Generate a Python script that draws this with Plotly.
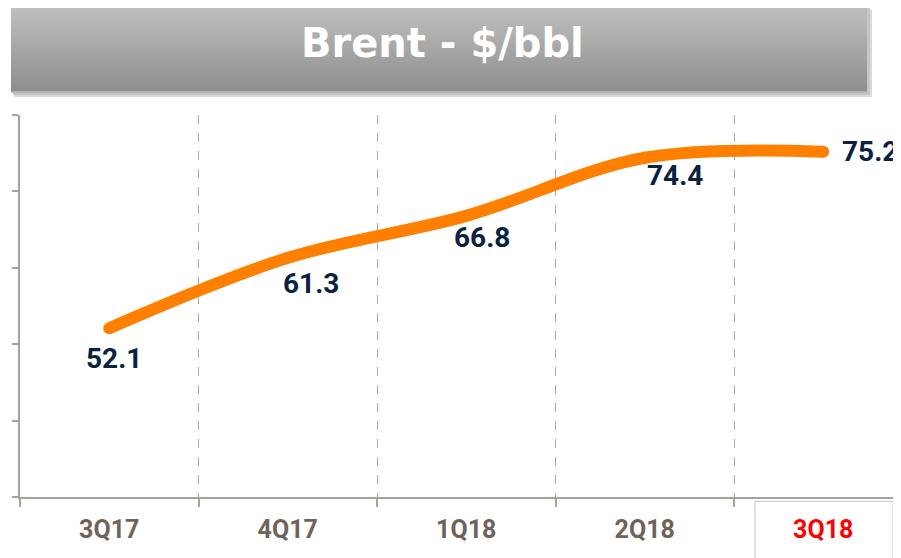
import plotly.graph_objects as go

# ---- data ----
quarters = ["3Q17", "4Q17", "1Q18", "2Q18", "3Q18"]
brent = [52.1, 61.3, 66.8, 74.4, 75.2]
label_text = ["52.1", "61.3", "66.8", "74.4", "75.2"]
title_text = "Brent - $/bbl"

# ---- geometry (pixels, reference frame; page body has an 8px margin) ----
OFF = 8
W, H = 901 - OFF, 558 - OFF
L, T = 20 - OFF, 115 - OFF
plot_bottom = 496.7 - OFF
R = 0
B = H - plot_bottom
pw, ph = W - L - R, plot_bottom - T

def px(x):
    return (x - OFF - L) / pw

def py(y):
    return 1 - (y - OFF - T) / ph

ORANGE = "#ff8000"
NAVY = "#0b2140"
AXIS = "#a8a29d"
TICKC = "#6f6259"
FONT = "Roboto"

xs = list(range(len(quarters)))
fig = go.Figure()
fig.add_trace(go.Scatter(
    x=xs, y=brent, mode="lines+markers",
    line=dict(color=ORANGE, width=12, shape="spline", smoothing=1.0),
    marker=dict(color=ORANGE, size=12),
    hoverinfo="skip", showlegend=False, cliponaxis=False,
))

label_shifts = [(5, -30), (23, -26), (16, -22), (30, -18), (47, 0)]
for x, v, t, (dx, dy) in zip(xs, brent, label_text, label_shifts):
    fig.add_annotation(x=x, y=v, text=t, showarrow=False, xshift=dx, yshift=dy,
                       xanchor="center", yanchor="middle",
                       font=dict(family=FONT, size=28, color=NAVY, weight="bold"))

shapes = []
# banner shadow
shapes.append(dict(type="rect", xref="paper", yref="paper",
                   x0=px(14), x1=px(872), y0=py(97), y1=py(10),
                   fillcolor="#d9d9d9", line=dict(width=0), layer="below"))
shapes.append(dict(type="rect", xref="paper", yref="paper",
                   x0=px(13), x1=px(870), y0=py(95), y1=py(8),
                   fillcolor="#c6c6c6", line=dict(width=0), layer="below"))
# banner gradient strips
top, bot = 6, 92
n = 43
c0, c1 = 0xbf, 0x8e
for i in range(n):
    y0 = top + (bot - top) * i / n
    y1 = top + (bot - top) * (i + 1) / n + 0.6
    c = round(c0 + (c1 - c0) * i / (n - 1))
    col = "#%02x%02x%02x" % (c, c, c)
    shapes.append(dict(type="rect", xref="paper", yref="paper",
                       x0=px(11), x1=px(867), y0=py(y1), y1=py(y0),
                       fillcolor=col, line=dict(width=0), layer="below"))
shapes.append(dict(type="line", xref="paper", yref="paper",
                   x0=px(11), x1=px(867), y0=py(92), y1=py(92),
                   line=dict(color="#bdbdbd", width=1.5), layer="below"))
# highlight box around last category
shapes.append(dict(type="path", xref="paper", yref="paper",
                   path="M %f,%f L %f,%f L %f,%f L %f,%f" % (
                       px(755), py(562), px(755), py(501), px(893), py(501), px(893), py(562)),
                   line=dict(color="#d0d0d0", width=1.2), layer="below"))

fig.add_annotation(xref="paper", yref="paper", x=px(442), y=py(43), text=title_text,
                   showarrow=False, xanchor="center", yanchor="middle",
                   font=dict(family="DejaVu Sans", size=40, color="white", weight="bold"))

ticktext = list(quarters[:-1]) + ["<span style='color:#ff0000'>%s</span>" % quarters[-1]]

fig.update_layout(
    width=W, height=H, margin=dict(l=L, r=R, t=T, b=B, pad=0),
    paper_bgcolor="white", plot_bgcolor="white",
    shapes=shapes,
    xaxis=dict(range=[-0.5, -0.5 + pw / 178.5], tickmode="array", tickvals=xs, ticktext=ticktext,
               showgrid=False, zeroline=False, showline=True, linecolor=AXIS, linewidth=2,
               ticks="", tickfont=dict(family=FONT, size=25, color=TICKC, weight="bold"),
               ticklabelstandoff=9,
               minor=dict(tickmode="array", tickvals=[-0.5, 0.5, 1.5, 2.5, 3.5], ticks="outside",
                          ticklen=8, tickcolor=AXIS, tickwidth=1.5, showgrid=True,
                          gridcolor="#a9a9a9", griddash="dash", gridwidth=1)),
    yaxis=dict(range=[30, 80], tickmode="linear", tick0=30, dtick=10, showticklabels=False,
               showgrid=False, zeroline=False, showline=True, linecolor=AXIS, linewidth=2,
               ticks="outside", ticklen=6, tickcolor=AXIS, tickwidth=1.5),
)

fig.write_html("out.html")
